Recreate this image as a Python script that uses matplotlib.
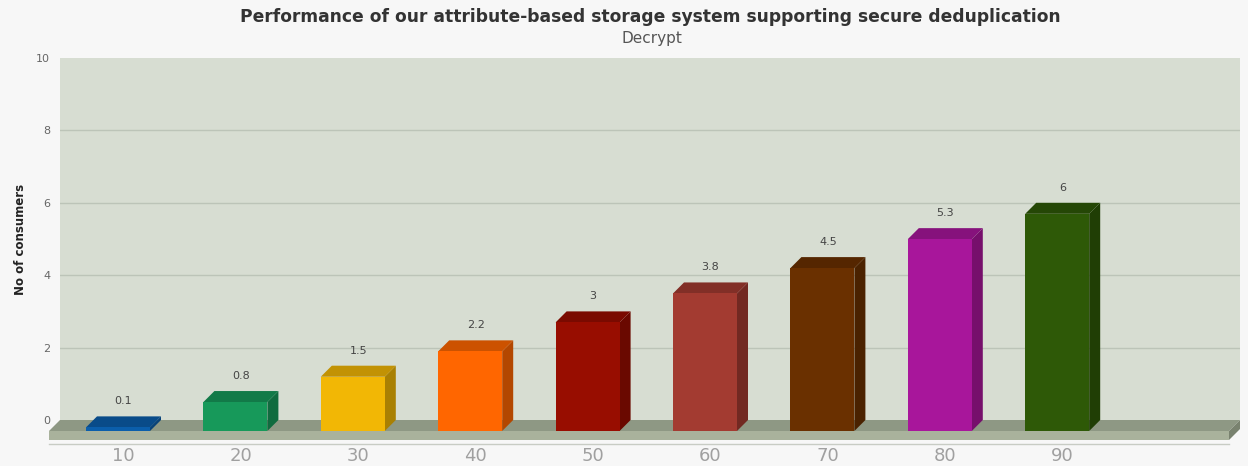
import numpy as np
import matplotlib.pyplot as plt
from matplotlib.patches import Polygon
from matplotlib.colors import to_rgb

categories = ['10', '20', '30', '40', '50', '60', '70', '80', '90']
values = [0.1, 0.8, 1.5, 2.2, 3, 3.8, 4.5, 5.3, 6]
colors = ['#0b5eab', '#17995a', '#f2b705', '#ff6600', '#980d00',
          '#a33b31', '#6a3000', '#a8169b', '#2e5907']

W, H = 1248, 466
fig = plt.figure(figsize=(W / 100, H / 100), dpi=100)
fig.patch.set_facecolor('#f7f7f7')

# wall region in pixels
L, R, T, B = 60, 1240, 58, 420
ax = fig.add_axes([L / W, 1 - B / H, (R - L) / W, (B - T) / H])
ax.set_facecolor('#d7ddd2')

pxx = 117.4  # px per category
x0 = 118     # px of first category
ax.set_xlim(-(x0 - L) / pxx, (R - x0) / pxx)
ax.set_ylim(0, 10)
pxy = (B - T) / 10

dx = 11 / pxx
dy = 11 / pxy
bw = 64 / pxx
thick = 9 / pxy

for s in ax.spines.values():
    s.set_visible(False)

for g in [2, 4, 6, 8]:
    ax.axhline(g, color='#bcc4b8', lw=1.0, zorder=1)

xl, xr = ax.get_xlim()
# floor
ax.add_patch(Polygon([(xl, 0), (xr, 0), (xr - dx, -dy), (xl - dx, -dy)],
                     closed=True, fc='#8e9884', ec='none', clip_on=False, zorder=2))
ax.add_patch(Polygon([(xl - dx, -dy), (xr - dx, -dy), (xr - dx, -dy - thick), (xl - dx, -dy - thick)],
                     closed=True, fc='#a9b29c', ec='none', clip_on=False, zorder=2))
ax.add_patch(Polygon([(xr - dx, -dy), (xr, 0), (xr, -thick), (xr - dx, -dy - thick)],
                     closed=True, fc='#79826f', ec='none', clip_on=False, zorder=2))
ax.plot([xl - dx, xr - dx], [-dy - thick - 4 / pxy] * 2, color='#c8ccc4', lw=1,
        clip_on=False, zorder=2)


def shade(c, f):
    r, g, b = to_rgb(c)
    return (r * f, g * f, b * f)


for i, (v, c) in enumerate(zip(values, colors)):
    x1, x2 = i - bw / 2, i + bw / 2
    yb, yt = -dy, v - dy
    front = [(x1, yb), (x2, yb), (x2, yt), (x1, yt)]
    top = [(x1, yt), (x2, yt), (x2 + dx, v), (x1 + dx, v)]
    side = [(x2, yb), (x2 + dx, 0), (x2 + dx, v), (x2, yt)]
    ax.add_patch(Polygon(side, closed=True, fc=shade(c, 0.7), ec='none', clip_on=False, zorder=3))
    ax.add_patch(Polygon(top, closed=True, fc=shade(c, 0.8), ec='none', clip_on=False, zorder=3))
    ax.add_patch(Polygon(front, closed=True, fc=c, ec='none', clip_on=False, zorder=4))
    ax.text(i + dx / 2, v + 0.28, f'{v:g}', ha='center', va='bottom',
            fontsize=8, color='#444444', zorder=5)
    ax.text(i + dx / 2, -dy - thick - 16 / pxy, categories[i], ha='center', va='center',
            fontsize=13, color='#a0a0a0', clip_on=False)

ax.set_xticks([])
ax.set_yticks(range(0, 11, 2))
ax.tick_params(axis='y', length=0, pad=7, labelsize=8, labelcolor='#666666')
ax.set_ylabel('No of consumers', fontsize=8.5, fontweight='bold', color='#222222')
ax.yaxis.set_label_coords((27 - L) / (R - L), 0.5)

fig.text(650 / W, 1 - 17 / H, 'Performance of our attribute-based storage system supporting secure deduplication',
         ha='center', va='center', fontsize=12.3, fontweight='bold', color='#333333')
fig.text(652 / W, 1 - 39 / H, 'Decrypt', ha='center', va='center', fontsize=11, color='#555555')

fig.savefig('out.png', dpi=100, facecolor=fig.get_facecolor())
